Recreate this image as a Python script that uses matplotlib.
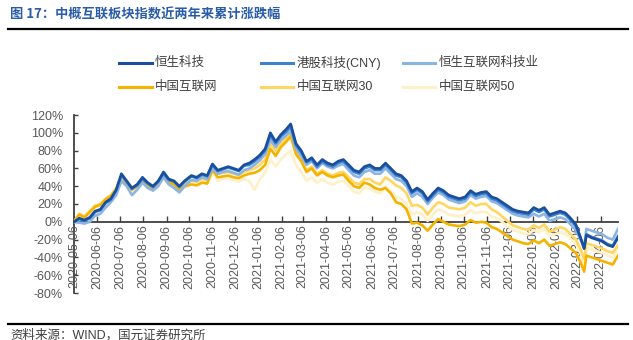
import matplotlib
matplotlib.use('Agg')
import matplotlib.pyplot as plt
import matplotlib.dates as mdates
from matplotlib.lines import Line2D
import pandas as pd

plt.rcParams['font.family'] = ['Liberation Sans', 'Noto Sans CJK SC']

# weekly readings of cumulative change (%) since 2020-05-06
dates = pd.to_datetime([
    '2020-05-06', '2020-05-13', '2020-05-20', '2020-05-27', '2020-06-03', '2020-06-10', '2020-06-17',
    '2020-06-24', '2020-07-01', '2020-07-08', '2020-07-15', '2020-07-22', '2020-07-29', '2020-08-05',
    '2020-08-12', '2020-08-19', '2020-08-26', '2020-09-02', '2020-09-09', '2020-09-16', '2020-09-23',
    '2020-09-30', '2020-10-09', '2020-10-16', '2020-10-23', '2020-10-30', '2020-11-06', '2020-11-13',
    '2020-11-20', '2020-11-27', '2020-12-04', '2020-12-11', '2020-12-18', '2020-12-25', '2021-01-01',
    '2021-01-08', '2021-01-15', '2021-01-22', '2021-01-29', '2021-02-05', '2021-02-12', '2021-02-18',
    '2021-02-25', '2021-03-04', '2021-03-11', '2021-03-18', '2021-03-25', '2021-04-01', '2021-04-08',
    '2021-04-15', '2021-04-22', '2021-04-29', '2021-05-06', '2021-05-13', '2021-05-20', '2021-05-27',
    '2021-06-03', '2021-06-10', '2021-06-17', '2021-06-24', '2021-07-01', '2021-07-08', '2021-07-15',
    '2021-07-22', '2021-07-29', '2021-08-05', '2021-08-12', '2021-08-19', '2021-08-26', '2021-09-02',
    '2021-09-09', '2021-09-16', '2021-09-23', '2021-09-30', '2021-10-08', '2021-10-15', '2021-10-22',
    '2021-10-29', '2021-11-05', '2021-11-12', '2021-11-19', '2021-11-26', '2021-12-03', '2021-12-10',
    '2021-12-17', '2021-12-24', '2021-12-31', '2022-01-07', '2022-01-14', '2022-01-21', '2022-01-28',
    '2022-02-04', '2022-02-11', '2022-02-18', '2022-02-25', '2022-03-04', '2022-03-10', '2022-03-15',
    '2022-03-18', '2022-03-25', '2022-04-01', '2022-04-08', '2022-04-15', '2022-04-22', '2022-04-29'])

hstech = [0, 4, 2, 5, 12, 14, 22, 26, 36, 54, 46, 38, 42, 50, 44, 40, 46, 56, 48, 46, 40,
          46, 52, 50, 54, 52, 65, 58, 60, 62, 60, 58, 64, 66, 70, 75, 82, 100, 90, 98, 104, 110,
          88, 80, 68, 72, 64, 70, 66, 64, 68, 70, 64, 58, 56, 62, 64, 60, 60, 66, 60, 54, 52,
          46, 34, 38, 34, 25, 32, 38, 35, 30, 28, 26, 28, 35, 31, 33, 34, 28, 26, 22, 18, 14,
          12, 11, 10, 16, 13, 16, 8, 10, 12, 10, 4, -3, -17, -30, -15, -18, -20, -22, -26, -28, -18]
hk_tech_cny = [0, 3, 1, 4, 11, 13, 21, 25, 35, 52, 45, 37, 41, 48, 43, 39, 45, 54, 47, 45, 39,
               45, 51, 49, 53, 51, 64, 57, 59, 61, 59, 57, 63, 64, 68, 73, 80, 97, 88, 96, 101, 107,
               86, 78, 67, 70, 62, 68, 64, 62, 66, 68, 62, 56, 54, 60, 62, 58, 58, 64, 58, 52, 50,
               44, 32, 36, 32, 23, 30, 36, 33, 28, 26, 24, 26, 33, 29, 31, 32, 26, 24, 20, 16, 12,
               10, 9, 8, 14, 11, 14, 6, 8, 10, 8, 2, -5, -18, -30, -14, -17, -19, -21, -25, -27, -16]
hs_internet = [0, -1, -2, 0, 7, 9, 16, 22, 30, 46, 40, 30, 36, 44, 38, 35, 40, 50, 42, 38, 33,
               40, 47, 46, 50, 48, 60, 54, 56, 57, 55, 53, 58, 60, 64, 69, 76, 92, 84, 92, 97, 102,
               82, 74, 64, 68, 60, 66, 62, 60, 63, 65, 58, 52, 50, 56, 58, 54, 54, 60, 54, 48, 46,
               40, 28, 32, 28, 20, 27, 33, 30, 25, 23, 21, 23, 30, 26, 28, 29, 23, 21, 17, 13, 9,
               7, 6, 5, 9, 6, 9, 1, 3, 5, 3, -3, -9, -20, -28, -8, -10, -12, -14, -18, -20, -8]
cn_internet = [0, 8, 5, 11, 17, 19, 25, 29, 36, 46, 42, 36, 40, 46, 40, 38, 44, 50, 44, 42, 36,
               40, 42, 41, 44, 43, 58, 50, 51, 52, 50, 49, 52, 54, 55, 58, 64, 82, 74, 84, 90, 96,
               76, 68, 56, 60, 52, 56, 52, 50, 52, 53, 46, 40, 38, 44, 42, 38, 36, 38, 32, 22, 20,
               14, -2, -1, -4, -10, -3, 3, 0, -3, -4, -5, -3, 2, -1, 0, -1, -6, -8, -12, -16, -20,
               -22, -24, -25, -21, -24, -20, -27, -25, -23, -25, -30, -35, -45, -56, -38, -40, -42, -44, -46, -48, -38]
cn_internet30 = [0, 9, 6, 12, 18, 20, 26, 30, 38, 48, 44, 38, 42, 48, 42, 40, 46, 52, 46, 44, 38,
                 42, 46, 45, 48, 47, 62, 54, 55, 56, 54, 52, 56, 58, 60, 64, 70, 88, 80, 88, 94, 99,
                 78, 70, 58, 62, 54, 58, 54, 52, 55, 56, 50, 44, 42, 48, 48, 44, 42, 50, 46, 41, 38,
                 32, 18, 19, 16, 8, 16, 22, 20, 16, 15, 14, 16, 22, 18, 20, 20, 14, 11, 6, 1, -4,
                 -6, -8, -9, -4, -7, -3, -11, -9, -6, -8, -14, -20, -30, -42, -24, -26, -28, -30, -33, -35, -26]
cn_internet50 = [0, 8, 5, 10, 16, 18, 24, 28, 34, 44, 40, 34, 38, 44, 38, 36, 42, 48, 42, 40, 35,
                 38, 42, 41, 44, 43, 56, 46, 48, 49, 47, 45, 48, 46, 36, 48, 55, 70, 62, 70, 76, 80,
                 64, 56, 46, 50, 44, 48, 44, 42, 45, 46, 40, 34, 32, 38, 38, 34, 32, 40, 34, 28, 26,
                 20, 8, 11, 8, 1, 8, 14, 12, 8, 7, 6, 8, 13, 10, 11, 11, 6, 4, 0, -5, -9,
                 -11, -13, -14, -9, -12, -8, -16, -14, -12, -13, -19, -25, -35, -47, -29, -31, -33, -35, -38, -40, -31]

names = ['恒生科技', '港股科技(CNY)', '恒生互联网科技业', '中国互联网', '中国互联网30', '中国互联网50']
series = [hstech, hk_tech_cny, hs_internet, cn_internet, cn_internet30, cn_internet50]
colors = ['#1A4E9E', '#3E82CC', '#8CB5E3', '#F5B300', '#FFD760', '#FFF0C8']

fig = plt.figure(figsize=(6.33, 3.40), dpi=100)
ax = fig.add_axes([74 / 633, 1 - 293 / 340, 544 / 633, 178 / 340])

# draw lighter series first so the dark blue sits on top
for i in [5, 4, 3, 2, 1, 0]:
    ax.plot(dates, series[i], color=colors[i], lw=1.9, zorder=2 + (5 - i) * 0.1)

ax.set_xlim(dates[0], dates[-1])
ax.set_ylim(-80, 120)
ax.set_yticks(range(-80, 121, 20))
ax.set_yticklabels([f'{v}%' for v in range(-80, 121, 20)])

ticks = pd.date_range('2020-05-01', '2022-04-01', freq='MS') + pd.Timedelta(days=5)
ax.set_xticks(ticks)
ax.xaxis.set_major_formatter(mdates.DateFormatter('%Y-%m-%d'))

ax.spines['bottom'].set_position(('data', 0))
for s in ['top', 'right']:
    ax.spines[s].set_visible(False)
for s in ['left', 'bottom']:
    ax.spines[s].set_color('#404040')
    ax.spines[s].set_linewidth(1.3)
    ax.spines[s].set_zorder(1)
ax.tick_params(axis='y', direction='in', length=3, width=1, color='#404040', labelsize=9,
               labelcolor='#595959', pad=8)
ax.tick_params(axis='x', direction='in', length=4, width=1, color='#404040', labelsize=9,
               labelcolor='#595959', pad=2, labelrotation=90)

# legend laid out in two rows of three
cols = [(119, 152, 155), (261, 293, 297), (403, 435, 439)]
rows = [63, 87]
for k, name in enumerate(names):
    x0, x1, xt = cols[k % 3]
    yy = 1 - rows[k // 3] / 340
    fig.add_artist(Line2D([x0 / 633, x1 / 633], [yy, yy], color=colors[k], lw=2.2))
    fig.text(xt / 633, yy, name, fontsize=9, color='#404040', va='center', ha='left')

fig.text(10 / 633, 1 - 15 / 340, '图 17：中概互联板块指数近两年来累计涨跌幅', fontsize=9.5,
         fontweight='bold', color='#2A5CA8', va='center', ha='left',
         family=['Noto Sans CJK SC', 'DejaVu Sans'])
fig.add_artist(Line2D([8 / 633, 628 / 633], [1 - 29 / 340, 1 - 29 / 340], color='black', lw=1.6))
fig.add_artist(Line2D([8 / 633, 628 / 633], [1 - 324 / 340, 1 - 324 / 340], color='black', lw=1.6))
fig.text(10 / 633, 1 - 335 / 340, '资料来源：WIND，国元证券研究所', fontsize=9, color='#404040',
         va='center', ha='left')

fig.savefig('out.png', dpi=100)
